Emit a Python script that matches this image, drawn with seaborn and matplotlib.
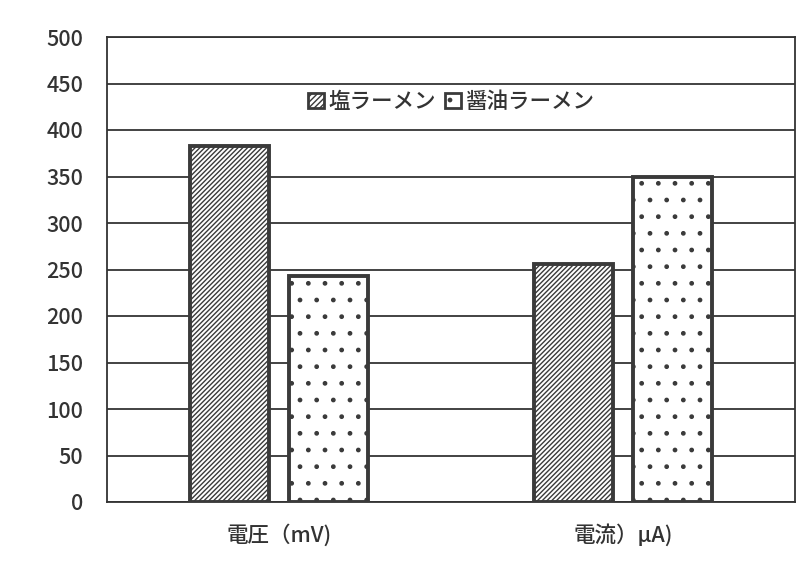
import pandas as pd
import matplotlib.pyplot as plt
import seaborn as sns
from matplotlib.patches import Patch

categories = ["電圧（mV)", "電流）μA)"]
series = ["塩ラーメン", "醤油ラーメン"]
shio = [383, 256]
shoyu = [243, 349]
yticks = [0, 50, 100, 150, 200, 250, 300, 350, 400, 450, 500]

df = pd.DataFrame({
    "cat": categories * 2,
    "kind": [series[0]] * 2 + [series[1]] * 2,
    "val": shio + shoyu,
})

sns.set_style("white")
plt.rcParams["font.family"] = ["Noto Sans CJK JP", "DejaVu Sans"]
plt.rcParams["font.weight"] = "medium"
plt.rcParams["hatch.linewidth"] = 1.0

fig = plt.figure(figsize=(8.06, 5.65), dpi=100)
ax = fig.add_axes([107 / 806, 1 - 502 / 565, 688 / 806, 465 / 565])

edge = "#3a3a3a"
sns.barplot(data=df, x="cat", y="val", hue="kind", order=categories,
            hue_order=series, palette=["white", "white"], width=0.576,
            gap=0.21, edgecolor=edge, linewidth=2.8, legend=False, ax=ax,
            zorder=3)

hatches = ["///////", "."]
for cont, h in zip(ax.containers, hatches):
    for bar in cont:
        bar.set_hatch(h)
        bar.set_edgecolor(edge)

ax.set_ylim(0, 500)
ax.set_yticks(yticks)
ax.set_xlim(-0.5, 1.5)
ax.yaxis.grid(True, color="#222222", linewidth=1.2)
ax.set_axisbelow(True)
ax.tick_params(length=0, labelsize=15.5, colors="#333333")
ax.tick_params(axis="y", pad=17)
ax.tick_params(axis="x", pad=16)
ax.set_xlabel("")
ax.set_ylabel("")
for s in ax.spines.values():
    s.set_visible(True)
    s.set_color("#333333")
    s.set_linewidth(1.3)

handles = [Patch(facecolor="white", edgecolor=edge, hatch="//////", linewidth=2),
           Patch(facecolor="white", edgecolor=edge, hatch=".", linewidth=2)]
ax.legend(handles, series, loc="center", bbox_to_anchor=(0.5, 0.86), ncol=2,
          frameon=False, fontsize=15.5, handlelength=0.75, handleheight=0.75,
          handletextpad=0.2, columnspacing=0.4, labelcolor="#333333")

fig.savefig("out.png", dpi=100, facecolor="white")
